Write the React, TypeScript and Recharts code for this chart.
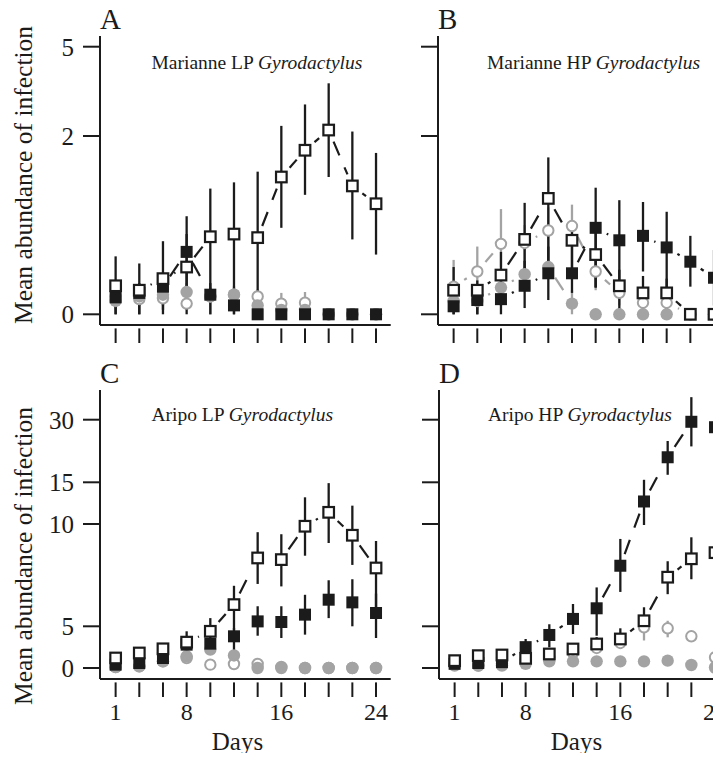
import React from 'react';
import { ComposedChart, Line, XAxis, YAxis, ErrorBar, Customized } from 'recharts';

const INK = '#1b1b1b';
const GRAY = '#a3a3a3';
const SERIF = '"Liberation Serif", "Times New Roman", Times, serif';

// sampling days, plotted evenly spaced
const days = [1, 3, 6, 8, 10, 12, 14, 16, 18, 20, 22, 24];
const labelledDays = [1, 8, 16, 24];

// the y axes are stretched: tick values and where they sit along the axis
const upperTickValues = [0, 2, 5];
const upperTickPlaces = [0, 178.3, 267.6];
const lowerTickValues = [0, 5, 10, 15, 30];
const lowerTickPlaces = [0, 41.7, 144, 185.7, 248.3];

// A: Marianne LP
const aOpen = [0.32, 0.27, 0.4, 0.53, 0.87, 0.9, 0.86, 1.54, 1.84, 2.2, 1.44, 1.24];
const aOpenLo = [0, 0, 0, 0.1, 0.2, 0, 0, 0.97, 1.34, 1.54, 0.84, 0.67];
const aOpenHi = [0.65, 0.57, 0.82, 0.9, 1.41, 1.48, 1.6, 2.34, 3.06, 3.77, 2.15, 1.81];
const aFill = [0.19, 0.24, 0.31, 0.7, 0.22, 0.1, 0, 0, 0, 0, 0, 0];
const aFillLo = [0, 0, 0.05, 0, 0, 0, 0, 0, 0, 0, 0, 0];
const aFillHi = [0.3, 0.35, 0.45, 1.1, 0.35, 0.25, 0, 0, 0, 0, 0, 0];
const aGrayOpen = [0.2, 0.17, 0.18, 0.12, 0.2, 0.22, 0.2, 0.12, 0.13, 0, 0, 0];
const aGrayOpenLo = [0.1, 0.1, 0.1, 0.05, 0, 0.15, 0.12, 0.05, 0.06, 0, 0, 0];
const aGrayOpenHi = [0.3, 0.25, 0.26, 0.2, 0.3, 0.3, 0.28, 0.24, 0.25, 0, 0, 0];
const aGrayFill = [0.15, 0.2, 0.22, 0.25, 0.2, 0.22, 0.1, 0.05, 0.05, 0, 0, 0];
const aGrayFillLo = [0.05, 0.1, 0.1, 0.15, 0, 0.1, 0, 0, 0, 0, 0, 0];
const aGrayFillHi = [0.25, 0.3, 0.32, 0.35, 0.3, 0.32, 0.2, 0.1, 0.1, 0, 0, 0];

// B: Marianne HP
const bOpen = [0.27, 0.27, 0.44, 0.84, 1.3, 0.83, 0.67, 0.32, 0.24, 0.24, 0, 0];
const bOpenLo = [0, 0, 0.1, 0.5, 0.6, 0.5, 0.3, 0, 0, 0, 0, 0];
const bOpenHi = [0.53, 0.38, 0.7, 1.25, 1.76, 0.95, 1.0, 0.5, 0.43, 0.4, 0, 0];
const bFill = [0.09, 0.16, 0.17, 0.32, 0.46, 0.46, 0.97, 0.83, 0.88, 0.75, 0.59, 0.41];
const bFillLo = [0, 0, 0, 0.07, 0.16, 0.24, 0.3, 0.3, 0.48, 0.25, 0.31, 0.1];
const bFillHi = [0.25, 0.3, 0.3, 0.6, 0.76, 0.9, 1.42, 1.28, 1.26, 1.15, 0.88, 0.72];
const bGrayOpen = [0.31, 0.48, 0.79, 0.8, 0.94, 0.99, 0.48, 0.24, 0.13, 0.13, 0, 0];
const bGrayOpenLo = [0.1, 0.27, 0.53, 0.6, 0.7, 0.76, 0.27, 0.1, 0.05, 0.05, 0, 0];
const bGrayOpenHi = [0.61, 0.76, 1.18, 1.0, 1.2, 1.23, 0.6, 0.35, 0.2, 0.2, 0, 0];
const bGrayFill = [0.15, 0.15, 0.3, 0.45, 0.53, 0.12, 0, 0, 0, 0, 0, 0];
const bGrayFillLo = [0.05, 0.05, 0.15, 0.3, 0.4, 0, 0, 0, 0, 0, 0, 0];
const bGrayFillHi = [0.25, 0.25, 0.45, 0.6, 0.7, 0.27, 0, 0, 0, 0, 0, 0];

// C: Aripo LP
const cOpen = [1.2, 1.8, 2.3, 3.1, 4.4, 6.06, 8.34, 8.26, 9.89, 11.4, 9.45, 7.85];
const cOpenLo = [1.0, 1.6, 2.0, 2.8, 3.5, 4.5, 7.07, 6.95, 8.45, 9.07, 8.0, 5.8];
const cOpenHi = [1.4, 2.0, 2.9, 4.4, 5.4, 6.98, 9.6, 9.5, 13.2, 14.9, 12.2, 9.17];
const cFill = [0.4, 0.6, 1.2, 2.8, 2.92, 3.8, 5.24, 5.21, 5.57, 6.3, 6.17, 5.65];
const cFillLo = [0.2, 0.4, 1.0, 2.4, 2.2, 1.8, 3.87, 3.6, 4.0, 5.4, 5.0, 3.6];
const cFillHi = [0.6, 0.8, 1.5, 3.2, 3.6, 4.8, 5.98, 5.98, 6.54, 7.25, 7.3, 6.6];
const cGrayOpen = [0.1, 0.2, 0.8, 1.2, 0.4, 0.48, 0.48, 0.12, 0, 0, 0, 0];
const cGrayOpenLo = [0, 0.1, 0.6, 1.0, 0.2, 0.3, 0.3, 0, 0, 0, 0, 0];
const cGrayOpenHi = [0.3, 0.3, 1.0, 1.4, 0.6, 0.66, 0.66, 0.25, 0, 0, 0, 0];
const cGrayFill = [0.1, 0.2, 0.8, 1.4, 2.2, 1.5, 0, 0, 0, 0, 0, 0];
const cGrayFillLo = [0, 0.1, 0.6, 1.2, 1.9, 1.2, 0, 0, 0, 0, 0, 0];
const cGrayFillHi = [0.3, 0.3, 1.0, 1.6, 2.5, 1.8, 0, 0, 0, 0, 0, 0];

// D: Aripo HP
const dOpen = [0.88, 1.48, 1.56, 1.16, 1.68, 2.28, 2.88, 3.48, 5.27, 7.4, 8.3, 8.6];
const dOpenLo = [0.7, 1.3, 1.35, 0.9, 1.4, 1.9, 2.0, 2.28, 4.47, 6.57, 7.3, 7.4];
const dOpenHi = [1.05, 1.65, 1.8, 1.5, 2.0, 2.7, 3.7, 4.76, 5.93, 8.18, 9.35, 9.76];
const dFill = [0.5, 0.6, 0.7, 2.5, 3.96, 5.36, 5.88, 7.96, 12.7, 21.0, 29.5, 28.2];
const dFillLo = [0.3, 0.4, 0.5, 0.3, 2.48, 4.08, 3.87, 6.68, 9.95, 16.8, 23.6, 18.4];
const dFillHi = [0.7, 0.8, 1.0, 3.48, 5.1, 6.09, 6.9, 9.27, 15.6, 24.9, 35.4, 37.5];
const dGrayOpen = [0.5, 0.3, 0.55, 1.0, 1.28, 1.8, 2.4, 3.0, 4.88, 4.76, 3.8, 1.28];
const dGrayOpenLo = [0.3, 0.1, 0.35, 0.8, 1.0, 1.5, 2.1, 2.7, 3.3, 3.68, 3.5, 1.0];
const dGrayOpenHi = [0.7, 0.5, 0.75, 1.2, 1.5, 2.1, 2.7, 3.3, 5.4, 5.27, 4.1, 1.5];
const dGrayFill = [0.3, 0.3, 0.3, 0.5, 0.8, 0.8, 0.8, 0.8, 0.8, 0.88, 0.36, 0.06];
const dGrayFillLo = [0.1, 0.1, 0.1, 0.3, 0.6, 0.6, 0.6, 0.6, 0.6, 0.7, 0.2, 0];
const dGrayFillHi = [0.5, 0.5, 0.5, 0.7, 1.0, 1.0, 1.0, 1.0, 1.0, 1.05, 0.5, 0.15];

// piecewise stretch between tick anchors
function toAxis(v: number, values: number[], places: number[]) {
  const n = values.length;
  for (let k = 1; k < n; k++) {
    if (v <= values[k] || k === n - 1) {
      const f = (v - values[k - 1]) / (values[k] - values[k - 1]);
      return places[k - 1] + f * (places[k] - places[k - 1]);
    }
  }
  return 0;
}

type Series = [number[], number[], number[]];

function buildRows(series: Series[], values: number[], places: number[]) {
  const keys = ['go', 'gf', 'fs', 'os'];
  return days.map((_, i) => {
    const row: any = { i };
    series.forEach(([mean, lo, hi], s) => {
      const m = toAxis(mean[i], values, places);
      row[keys[s]] = m;
      row[keys[s] + 'e'] = [m - toAxis(lo[i], values, places), toAxis(hi[i], values, places) - m];
    });
    return row;
  });
}

const GAP = 12.5;

// R "type b" look: a dashed segment towards the next point, with gaps round each marker
function markerDot(kind: string, joined: boolean) {
  const color = kind === 'os' || kind === 'fs' ? INK : GRAY;
  return (p: any) => {
    const { cx, cy, index, points } = p;
    const key = `m-${kind}-${index}`;
    if (typeof cx !== 'number' || typeof cy !== 'number') return <g key={key} />;
    let seg = null;
    const next = joined && Array.isArray(points) ? points[index + 1] : null;
    if (next && typeof next.x === 'number' && typeof next.y === 'number') {
      const dx = next.x - cx;
      const dy = next.y - cy;
      const d = Math.hypot(dx, dy);
      if (d > 2 * GAP + 1) {
        const ux = dx / d;
        const uy = dy / d;
        seg = (
          <line
            x1={cx + ux * GAP}
            y1={cy + uy * GAP}
            x2={next.x - ux * GAP}
            y2={next.y - uy * GAP}
            stroke={color}
            strokeWidth={2.2}
            strokeDasharray="15 13"
          />
        );
      }
    }
    let mark;
    if (kind === 'os') {
      mark = <rect x={cx - 5.3} y={cy - 5.3} width={10.6} height={10.6} fill="#fff" stroke={INK} strokeWidth={2.2} />;
    } else if (kind === 'fs') {
      mark = <rect x={cx - 6} y={cy - 6} width={12} height={12} fill={INK} />;
    } else if (kind === 'go') {
      mark = <circle cx={cx} cy={cy} r={5.2} fill="#fff" stroke={GRAY} strokeWidth={2} />;
    } else {
      mark = <circle cx={cx} cy={cy} r={6.2} fill={GRAY} />;
    }
    return (
      <g key={key}>
        {seg}
        {mark}
      </g>
    );
  };
}

const panels = [
  {
    id: 'A', site: 'Marianne LP', left: 0, top: 0, siteX: 51.5, siteY: 33.3, yLabels: true, xLabels: false, titleY: 139,
    upper: true, join: { os: true, fs: true, go: false, gf: false },
    series: [
      [aGrayOpen, aGrayOpenLo, aGrayOpenHi], [aGrayFill, aGrayFillLo, aGrayFillHi],
      [aFill, aFillLo, aFillHi], [aOpen, aOpenLo, aOpenHi],
    ] as Series[],
  },
  {
    id: 'B', site: 'Marianne HP', left: 338.4, top: 0, siteX: 49, siteY: 33.3, yLabels: false, xLabels: false, titleY: 139,
    upper: true, join: { os: true, fs: true, go: true, gf: true },
    series: [
      [bGrayOpen, bGrayOpenLo, bGrayOpenHi], [bGrayFill, bGrayFillLo, bGrayFillHi],
      [bFill, bFillLo, bFillHi], [bOpen, bOpenLo, bOpenHi],
    ] as Series[],
  },
  {
    id: 'C', site: 'Aripo LP', left: 0, top: 354, siteX: 51.5, siteY: 30.5, yLabels: true, xLabels: true, titleY: 166,
    upper: false, join: { os: true, fs: false, go: false, gf: false },
    series: [
      [cGrayOpen, cGrayOpenLo, cGrayOpenHi], [cGrayFill, cGrayFillLo, cGrayFillHi],
      [cFill, cFillLo, cFillHi], [cOpen, cOpenLo, cOpenHi],
    ] as Series[],
  },
  {
    id: 'D', site: 'Aripo HP', left: 339.2, top: 354, siteX: 49, siteY: 30.5, yLabels: false, xLabels: true, titleY: 166,
    upper: false, join: { os: true, fs: true, go: false, gf: false },
    series: [
      [dGrayOpen, dGrayOpenLo, dGrayOpenHi], [dGrayFill, dGrayFillLo, dGrayFillHi],
      [dFill, dFillLo, dFillHi], [dOpen, dOpenLo, dOpenHi],
    ] as Series[],
  },
];

const W = 400;
const H = 410;
const FL = 100; // frame left inside each chart
const FT = 36; // frame top
const FB = 325; // frame bottom
const X_DOMAIN: [number, number] = [-0.66, 11.62];
const dayIdx = days.map((_, i) => i);

function XTick(props: any) {
  const { x, y, payload, showLabel } = props;
  const day = days[payload.value];
  return (
    <g>
      <line x1={x} x2={x} y1={y + 3.4} y2={y + 18} stroke={INK} strokeWidth={2} />
      {showLabel && labelledDays.includes(day) && (
        <text x={x} y={y + 40.5} textAnchor="middle" fontSize={24} fontFamily={SERIF} fill={INK}>
          {day}
        </text>
      )}
    </g>
  );
}

function PanelText({ id, site, siteX, siteY }: any) {
  return (
    <g>
      <text x={FL} y={FT - 7.5} fontSize={29} fontFamily={SERIF} fill={INK}>
        {id}
      </text>
      <text x={FL + siteX} y={FT + siteY} fontSize={19.5} fontFamily={SERIF} fill={INK}>
        {site} <tspan fontStyle="italic">Gyrodactylus</tspan>
      </text>
    </g>
  );
}

function Panel({ cfg }: { cfg: (typeof panels)[number] }) {
  const values = cfg.upper ? upperTickValues : lowerTickValues;
  const places = cfg.upper ? upperTickPlaces : lowerTickPlaces;
  const yDomain: [number, number] = cfg.upper ? [-10.7, 278.3] : [-11, 278];
  const rows = buildRows(cfg.series, values, places);
  const axisStyle = { stroke: INK, strokeWidth: 2 };
  const order = ['go', 'gf', 'fs', 'os'];
  return (
    <div style={{ position: 'absolute', left: cfg.left, top: cfg.top, width: W, height: H }}>
      <ComposedChart width={W} height={H} data={rows} margin={{ top: FT, right: 9.3, bottom: H - FB - 30, left: FL - 60 }}>
        <XAxis
          xAxisId="b"
          type="number"
          dataKey="i"
          domain={X_DOMAIN}
          allowDataOverflow
          ticks={dayIdx}
          interval={0}
          height={30}
          tickLine={false}
          tickSize={0}
          tickMargin={0}
          axisLine={axisStyle}
          tick={(p: any) => <XTick {...p} showLabel={cfg.xLabels} />}
          label={
            cfg.xLabels
              ? () => (
                  <text x={FL + 137.5} y={FB + 71.2} textAnchor="middle" fontSize={25} fontFamily={SERIF} fill={INK}>
                    Days
                  </text>
                )
              : undefined
          }
        />
        <XAxis xAxisId="t" orientation="top" type="number" dataKey="i" domain={X_DOMAIN} allowDataOverflow height={0} tick={false} tickLine={false} axisLine={axisStyle} />
        <YAxis
          yAxisId="l"
          type="number"
          domain={yDomain}
          allowDataOverflow
          ticks={places}
          interval={0}
          width={60}
          tickSize={17}
          tickMargin={9}
          tickLine={axisStyle}
          axisLine={axisStyle}
          tick={{ fontSize: 25, fill: INK, fontFamily: SERIF }}
          tickFormatter={(v: number) => (cfg.yLabels ? String(values[places.indexOf(v)] ?? '') : '')}
          label={
            cfg.yLabels
              ? () => (
                  <text
                    x={32.3}
                    y={FT + cfg.titleY}
                    transform={`rotate(-90 32.3 ${FT + cfg.titleY})`}
                    textAnchor="middle"
                    fontSize={25.5}
                    fontFamily={SERIF}
                    fill={INK}
                  >
                    Mean abundance of infection
                  </text>
                )
              : undefined
          }
        />
        <YAxis yAxisId="r" orientation="right" type="number" domain={yDomain} allowDataOverflow width={0} tick={false} tickLine={false} axisLine={axisStyle} />
        {order.map((k) => (
          <Line
            key={k}
            xAxisId="b"
            yAxisId="l"
            dataKey={k}
            stroke="none"
            isAnimationActive={false}
            activeDot={false}
            legendType="none"
            dot={markerDot(k, (cfg.join as any)[k])}
          >
            <ErrorBar
              dataKey={k + 'e'}
              direction="y"
              width={0}
              stroke={k === 'os' || k === 'fs' ? INK : GRAY}
              strokeWidth={2.3}
              isAnimationActive={false}
            />
          </Line>
        ))}
        <Customized component={<PanelText id={cfg.id} site={cfg.site} siteX={cfg.siteX} siteY={cfg.siteY} />} />
      </ComposedChart>
    </div>
  );
}

export default function App() {
  return (
    <div style={{ position: 'relative', width: 721, height: 761, margin: -8, overflow: 'hidden', background: '#fff' }}>
      {panels.map((p) => (
        <Panel key={p.id} cfg={p} />
      ))}
    </div>
  );
}
